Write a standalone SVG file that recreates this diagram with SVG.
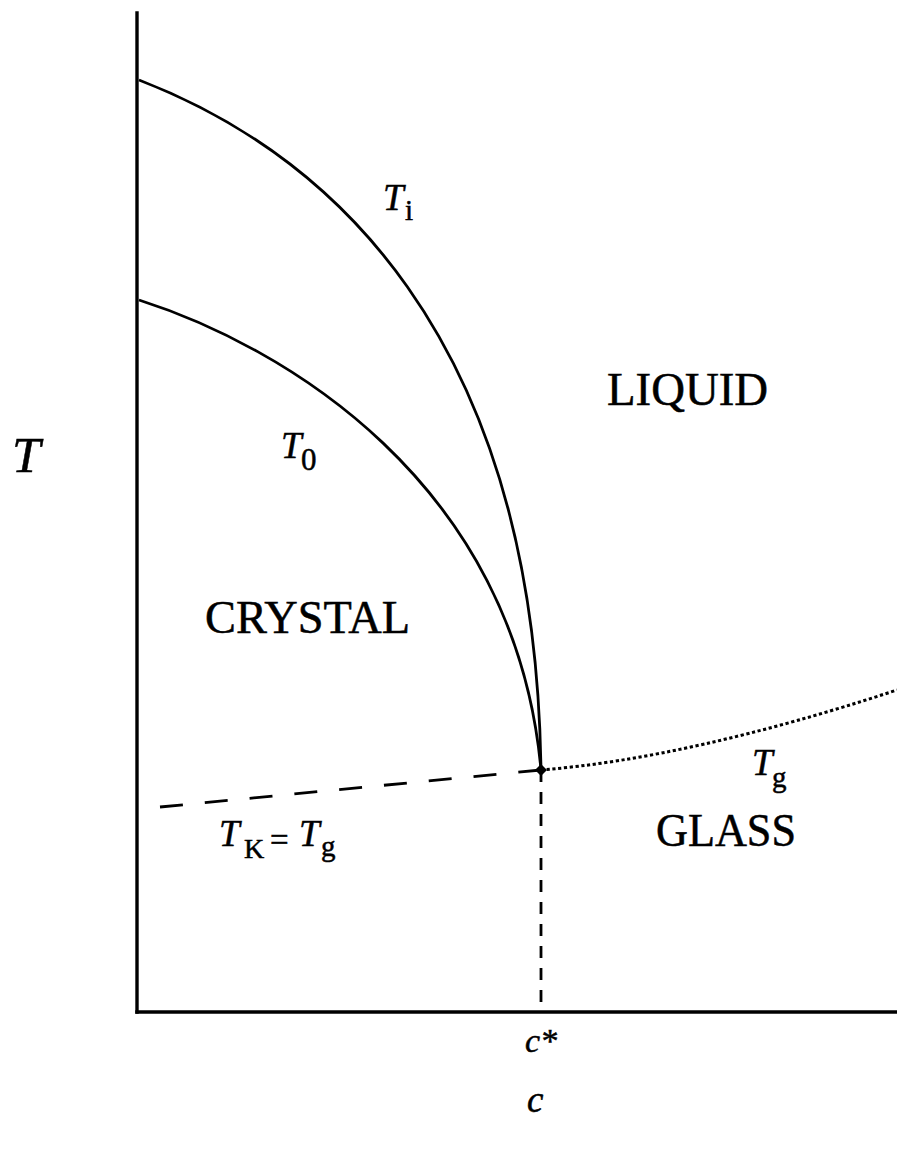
<svg xmlns="http://www.w3.org/2000/svg" width="897" height="1157" viewBox="0 0 897 1157">
<style>
.axis{stroke:#000;stroke-width:3.4;fill:none;stroke-linecap:square}
.curve{stroke:#000;stroke-width:2.8;fill:none}
.dash{stroke:#000;stroke-width:2.8;fill:none;stroke-dasharray:23 22}
.vdash{stroke:#000;stroke-width:2.8;fill:none;stroke-dasharray:12 10}
.dot{stroke:#000;stroke-width:3;fill:none;stroke-dasharray:3.2 2.6}
.it{font-family:"Liberation Serif",serif;font-style:italic;fill:#000;stroke:#000;stroke-width:0.5}
.rm{font-family:"Liberation Serif",serif;fill:#000;stroke:#000;stroke-width:0.5}
</style>
<rect width="897" height="1157" fill="#fff"/>
<g id="axes">
<line class="axis" x1="137" y1="13" x2="137" y2="1012"/>
<line class="axis" x1="137" y1="1012" x2="897" y2="1012"/>
</g>
<g id="connectors">
<path id="Ti-curve" class="curve" d="M139,80 C325,152 535,330 541,770"/>
<path id="T0-curve" class="curve" d="M139,300 C280,345 515,480 541,770"/>
<path id="TK-line" class="dash" d="M160,807 L541,770"/>
<path id="cstar-line" class="vdash" d="M541,770 L541,1012"/>
<path id="Tg-curve" class="dot" d="M541,770 Q690,758 897,690"/>
</g>
<g id="point">
<path d="M541,764 L547,770 L541,776 L535,770 Z" fill="#000"/>
</g>
<g id="labels">
<text class="it" x="12" y="472" font-size="51">T</text>
<text class="it" x="383" y="210" font-size="37">T</text>
<text class="rm" x="405" y="220" font-size="29">i</text>
<text class="it" x="281" y="458" font-size="37">T</text>
<text class="rm" x="301" y="470" font-size="31">0</text>
<text class="rm" x="607" y="405" font-size="46" textLength="161" lengthAdjust="spacingAndGlyphs">LIQUID</text>
<text class="rm" x="205" y="633" font-size="46" textLength="205" lengthAdjust="spacingAndGlyphs">CRYSTAL</text>
<text class="rm" x="656" y="846" font-size="46" textLength="140" lengthAdjust="spacingAndGlyphs">GLASS</text>
<text class="it" x="219" y="846" font-size="37">T</text>
<text class="rm" x="244" y="858" font-size="28">K</text>
<text class="rm" x="270" y="851" font-size="33">=</text>
<text class="it" x="299" y="846" font-size="37">T</text>
<text class="rm" x="321" y="856" font-size="29">g</text>
<text class="it" x="752" y="775" font-size="37">T</text>
<text class="rm" x="772" y="787" font-size="29">g</text>
<text class="it" x="525" y="1052" font-size="34">c*</text>
<text class="it" x="527" y="1112" font-size="37">c</text>
</g>
</svg>
